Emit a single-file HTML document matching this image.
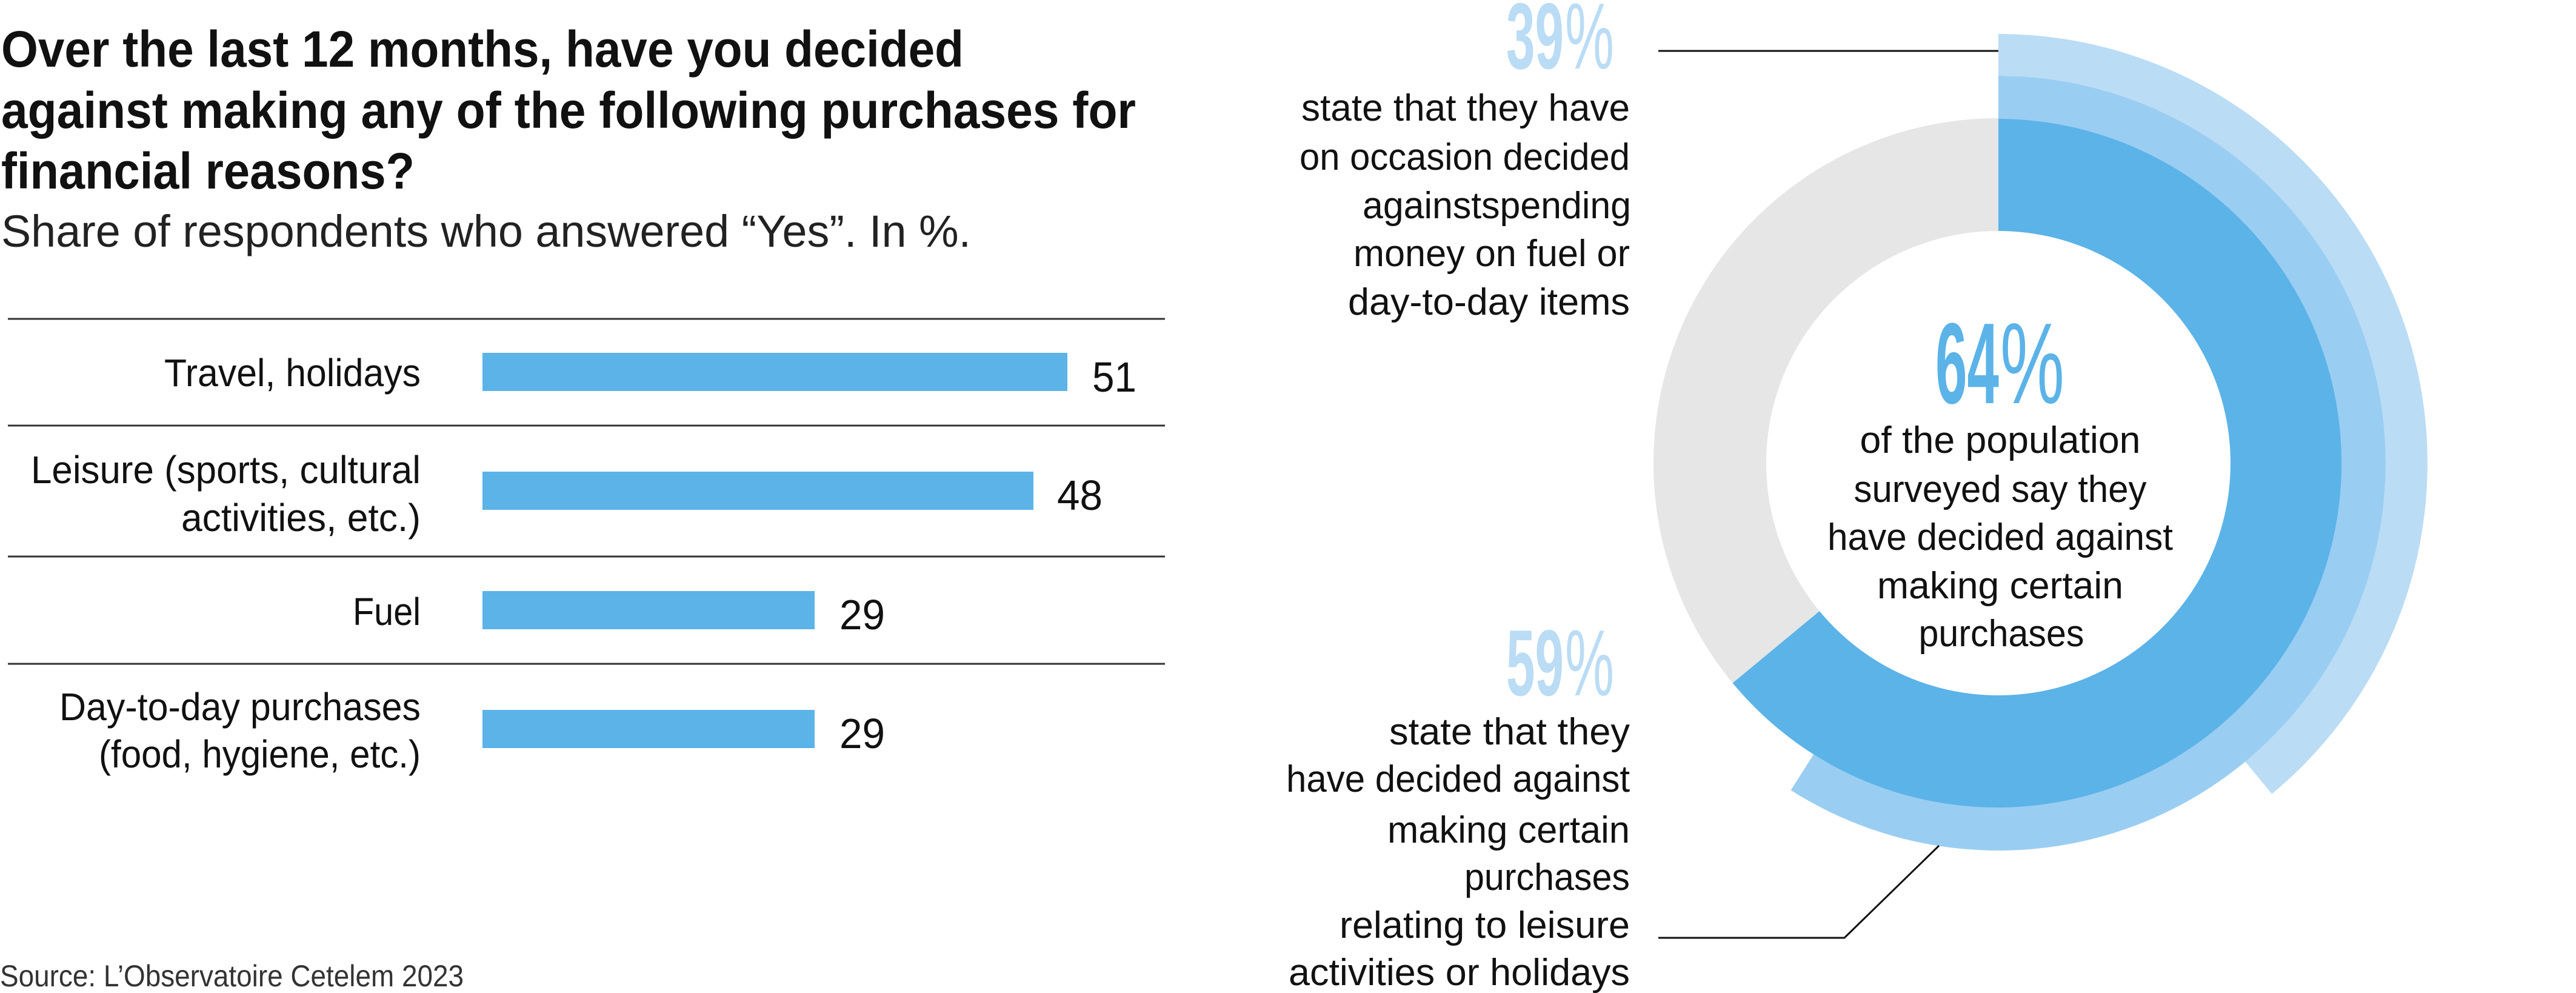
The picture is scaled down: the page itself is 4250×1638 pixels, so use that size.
<!DOCTYPE html>
<html><head><meta charset="utf-8"><style>
html,body{margin:0;padding:0;background:#fff;}
svg{display:block;}
text{font-family:"Liberation Sans",sans-serif;fill:#111;}
</style></head><body>
<svg width="4250" height="1638" viewBox="0 0 4250 1638" xmlns="http://www.w3.org/2000/svg">
<!-- Title -->
<g font-weight="bold" font-size="84">
<text x="2" y="110" textLength="1588" lengthAdjust="spacingAndGlyphs">Over the last 12 months, have you decided</text>
<text x="2" y="211" textLength="1872" lengthAdjust="spacingAndGlyphs">against making any of the following purchases for</text>
<text x="2" y="311" textLength="682" lengthAdjust="spacingAndGlyphs">financial reasons?</text>
</g>
<text x="2" y="407" font-size="74" style="fill:#222" textLength="1600" lengthAdjust="spacingAndGlyphs">Share of respondents who answered “Yes”. In %.</text>

<!-- rules -->
<g stroke="#333" stroke-width="3">
<line x1="13" y1="526" x2="1922" y2="526"/>
<line x1="13" y1="702" x2="1922" y2="702"/>
<line x1="13" y1="918" x2="1922" y2="918"/>
<line x1="13" y1="1095" x2="1922" y2="1095"/>
</g>
<!-- bars -->
<g fill="#5bb3e8">
<rect x="796" y="582" width="965" height="63"/>
<rect x="796" y="778" width="909" height="63"/>
<rect x="796" y="975" width="548" height="63"/>
<rect x="796" y="1171" width="548" height="63"/>
</g>
<g font-size="70">
<text x="1802" y="646" textLength="73" lengthAdjust="spacingAndGlyphs">51</text>
<text x="1744" y="841" textLength="75" lengthAdjust="spacingAndGlyphs">48</text>
<text x="1385" y="1038" textLength="75" lengthAdjust="spacingAndGlyphs">29</text>
<text x="1385" y="1234" textLength="75" lengthAdjust="spacingAndGlyphs">29</text>
</g>
<g font-size="64">
<text x="271" y="637" textLength="423" lengthAdjust="spacingAndGlyphs">Travel, holidays</text>
<text x="51" y="797" textLength="643" lengthAdjust="spacingAndGlyphs">Leisure (sports, cultural</text>
<text x="299" y="876" textLength="395" lengthAdjust="spacingAndGlyphs">activities, etc.)</text>
<text x="582" y="1031" textLength="112" lengthAdjust="spacingAndGlyphs">Fuel</text>
<text x="98" y="1188" textLength="596" lengthAdjust="spacingAndGlyphs">Day-to-day purchases</text>
<text x="163" y="1266" textLength="531" lengthAdjust="spacingAndGlyphs">(food, hygiene, etc.)</text>
</g>
<text x="0" y="1627" font-size="50" style="fill:#333" textLength="765" lengthAdjust="spacingAndGlyphs">Source: L’Observatoire Cetelem 2023</text>

<!-- donut -->
<circle cx="3297" cy="764" r="476" fill="none" stroke="#e6e6e6" stroke-width="186"/>
<path d="M3297,195 A569,569 0 1 1 2858.6,1126.7 L3001.9,1008.1 A383,383 0 1 0 3297,381 Z" fill="#5bb3e8"/>
<path d="M3297,125 A639,639 0 1 1 2954.6,1303.5 L2992.1,1244.4 A568,568 0 1 0 3297,196 Z" fill="#9acdf2"/>
<path d="M3297,56 A708,708 0 0 1 3748.3,1309.5 L3704.3,1256.3 A639,639 0 0 0 3297,125 Z" fill="#badcf5"/>

<!-- leader lines -->
<g stroke="#111" stroke-width="3" fill="none">
<polyline points="2736,84 3297,84"/>
<polyline points="2736,1547 3043,1547 3199,1395"/>
</g>

<!-- center -->
<text x="3193" y="665" font-size="190" font-weight="bold" style="fill:#5bb3e8" textLength="105" lengthAdjust="spacingAndGlyphs">64</text>
<text x="3300" y="665" font-size="190" style="fill:#5bb3e8" textLength="106" lengthAdjust="spacingAndGlyphs">%</text>
<g font-size="62" text-anchor="middle">
<text x="3300" y="747" textLength="463" lengthAdjust="spacingAndGlyphs">of the population</text>
<text x="3300" y="828" textLength="483" lengthAdjust="spacingAndGlyphs">surveyed say they</text>
<text x="3300" y="907" textLength="570" lengthAdjust="spacingAndGlyphs">have decided against</text>
<text x="3300" y="987" textLength="406" lengthAdjust="spacingAndGlyphs">making certain</text>
<text x="3302" y="1066" textLength="273" lengthAdjust="spacingAndGlyphs">purchases</text>
</g>

<!-- 39% -->
<text x="2485" y="113" font-size="155" font-weight="bold" style="fill:#badcf5" textLength="95" lengthAdjust="spacingAndGlyphs">39</text>
<text x="2582" y="113" font-size="155" style="fill:#badcf5" textLength="81" lengthAdjust="spacingAndGlyphs">%</text>
<g font-size="62" text-anchor="end">
<text x="2689" y="199" textLength="542" lengthAdjust="spacingAndGlyphs">state that they have</text>
<text x="2689" y="280" textLength="545" lengthAdjust="spacingAndGlyphs">on occasion decided</text>
<text x="2691" y="360" textLength="443" lengthAdjust="spacingAndGlyphs">againstspending</text>
<text x="2689" y="439" textLength="456" lengthAdjust="spacingAndGlyphs">money on fuel or</text>
<text x="2689" y="519" textLength="465" lengthAdjust="spacingAndGlyphs">day-to-day items</text>
</g>

<!-- 59% -->
<text x="2485" y="1147" font-size="155" font-weight="bold" style="fill:#badcf5" textLength="95" lengthAdjust="spacingAndGlyphs">59</text>
<text x="2582" y="1147" font-size="155" style="fill:#badcf5" textLength="81" lengthAdjust="spacingAndGlyphs">%</text>
<g font-size="62" text-anchor="end">
<text x="2689" y="1228" textLength="397" lengthAdjust="spacingAndGlyphs">state that they</text>
<text x="2689" y="1306" textLength="567" lengthAdjust="spacingAndGlyphs">have decided against</text>
<text x="2689" y="1390" textLength="400" lengthAdjust="spacingAndGlyphs">making certain</text>
<text x="2689" y="1468" textLength="273" lengthAdjust="spacingAndGlyphs">purchases</text>
<text x="2689" y="1547" textLength="479" lengthAdjust="spacingAndGlyphs">relating to leisure</text>
<text x="2689" y="1625" textLength="563" lengthAdjust="spacingAndGlyphs">activities or holidays</text>
</g>
</svg>
</body></html>
